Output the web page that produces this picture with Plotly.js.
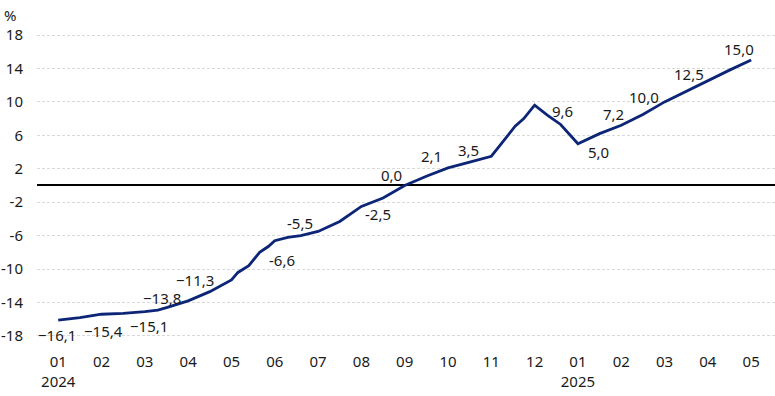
<!DOCTYPE html>
<html><head><meta charset="utf-8">
<script src="https://cdn.plot.ly/plotly-3.0.1.min.js"></script>
<style>html,body{margin:0;padding:0;background:#fff}#chart{width:775px;height:396px}</style>
</head><body><div id="chart"></div>
<script>
// line series (x = months since Jan 2024)
const seriesX = [0,0.5,1,1.5,2,2.3,2.5,3,3.5,4,4.15,4.4,4.65,4.85,5,5.3,5.6,6,6.5,7,7.5,8,8.5,9,9.5,10,10.2,10.55,10.75,11,11.3,11.6,12,12.2,12.5,13,13.5,14,14.5,15,15.5,16];
const seriesY = [-16.1,-15.8,-15.4,-15.3,-15.1,-14.9,-14.6,-13.8,-12.7,-11.3,-10.4,-9.6,-8.0,-7.3,-6.6,-6.2,-6.0,-5.5,-4.3,-2.5,-1.5,0.0,1.1,2.1,2.8,3.5,4.8,7.1,8.0,9.6,8.4,7.3,5.0,5.5,6.2,7.2,8.5,10.0,11.3,12.5,13.8,15.0];
// monthly labelled values
const monthIdx = [0,1,2,3,4,5,6,7,8,9,10,11,12,13,14,15,16];
const monthVal = [-16.1,-15.4,-15.1,-13.8,-11.3,-6.6,-5.5,-2.5,0.0,2.1,3.5,9.6,5.0,7.2,10.0,12.5,15.0];
const labelText = ["−16,1","−15,4","−15,1","−13,8","−11,3","-6,6","-5,5","-2,5","0,0","2,1","3,5","9,6","5,0","7,2","10,0","12,5","15,0"];
const xTickText = ["01<br>2024","02","03","04","05","06","07","08","09","10","11","12","01<br>2025","02","03","04","05"];
const yTickVals = [-18,-14,-10,-6,-2,2,6,10,14,18];
const yTickText = ["-18","-14","-10","-6","-2","2","6","10","14","18"];

// label offsets in px (styling)
const offs = [[-1,-15],[2,-17],[4,-14],[-26,3],[-36,0],[7,-19],[-18,8],[17,-8],[-13,10],[-17,12],[-23,6],[28,-6],[21,-8],[-8,11],[-21,5],[-19,7],[-12,11]];

const font = {family:"Noto Sans, Open Sans, sans-serif", size:15, color:"#1a1a1a"};
const annotations = monthIdx.map((m,i)=>({
  x:m, y:monthVal[i], xref:'x', yref:'y', text:labelText[i], showarrow:false,
  xshift:offs[i][0], yshift:offs[i][1], font:font
}));
annotations.push({xref:'paper', yref:'paper', x:-0.047, y:1.085, text:'%', showarrow:false, xanchor:'left', font:font});

Plotly.newPlot('chart', [{
  x:seriesX, y:seriesY, type:'scatter', mode:'lines',
  line:{color:'#0c2577', width:2.8}, hoverinfo:'skip'
}], {
  width:775, height:396,
  margin:{l:37, r:0, t:30, b:51},
  paper_bgcolor:'#fff', plot_bgcolor:'#fff',
  showlegend:false,
  font:font,
  xaxis:{range:[-0.49,16.55], tickvals:monthIdx, ticktext:xTickText, showgrid:false, zeroline:false,
    showline:false, ticks:'', ticklabelstandoff:6, tickfont:font},
  yaxis:{range:[-19.08,18.6], tickvals:yTickVals, ticktext:yTickText, showgrid:true, gridcolor:'#d9d9d9',
    griddash:'3px,2px', gridwidth:1, zeroline:true, zerolinecolor:'#000', zerolinewidth:2, showline:false,
    ticks:'', ticklabelstandoff:13, tickfont:font},
  annotations:annotations
}, {staticPlot:true});
</script></body></html>
